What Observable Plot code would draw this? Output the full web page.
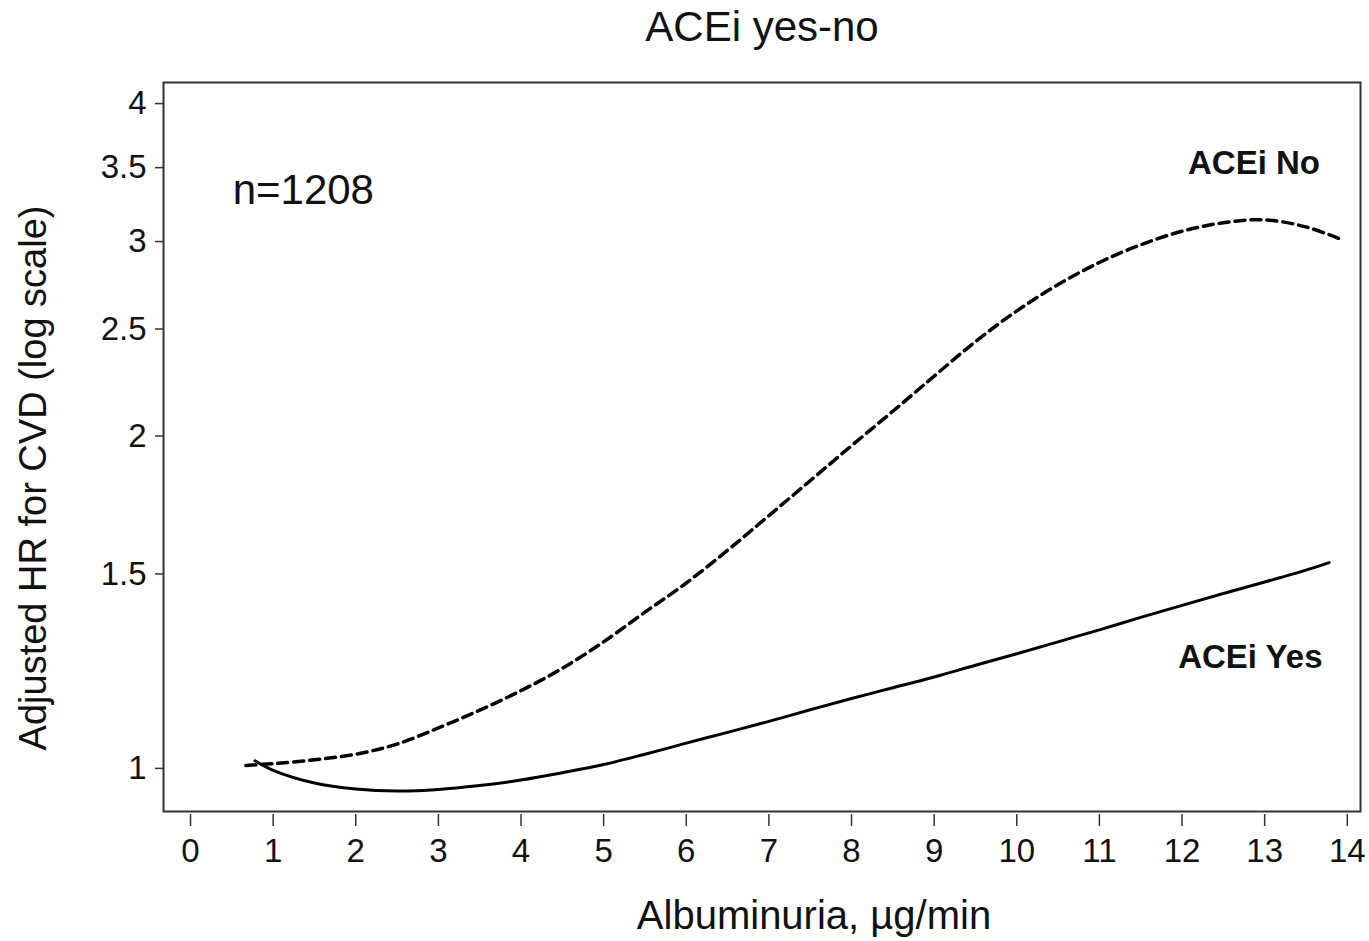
<!DOCTYPE html>
<html>
<head>
<meta charset="utf-8">
<script src="https://cdn.jsdelivr.net/npm/d3@7"></script>
<script src="https://cdn.jsdelivr.net/npm/@observablehq/plot@0.6"></script>
<style>
  html, body { margin: 0; padding: 0; background: #fff; }
</style>
</head>
<body>
<div id="chart"></div>
<script>
// ---- Data ----
const titleText = "ACEi yes-no";
const xLabelText = "Albuminuria, µg/min";
const yLabelText = "Adjusted HR for CVD (log scale)";
const xTicks = [0,1,2,3,4,5,6,7,8,9,10,11,12,13,14];
const yTicks = [1, 1.5, 2, 2.5, 3, 3.5, 4];

// ACEi No (dashed)
const noX  = [0.67, 1.0, 1.5, 2.0, 2.5, 3.0, 3.5, 4.0, 4.5, 5.0, 5.5, 6.0, 6.5, 7.0, 7.5, 8.0, 8.5, 9.0, 9.5, 10.0, 10.5, 11.0, 11.5, 12.0, 12.5, 13.0, 13.5, 13.93];
const noHR = [1.006, 1.010, 1.018, 1.030, 1.052, 1.088, 1.129, 1.176, 1.232, 1.302, 1.385, 1.472, 1.576, 1.694, 1.822, 1.960, 2.106, 2.266, 2.435, 2.596, 2.743, 2.872, 2.980, 3.065, 3.120, 3.139, 3.093, 3.013];

// ACEi Yes (solid)
const yesX  = [0.78, 1.0, 1.5, 2.0, 2.5, 3.0, 3.5, 4.0, 4.5, 5.0, 5.5, 6.0, 6.5, 7.0, 7.5, 8.0, 8.5, 9.0, 9.5, 10.0, 10.5, 11.0, 11.5, 12.0, 12.5, 13.0, 13.5, 13.78];
const yesHR = [1.016, 0.996, 0.970, 0.958, 0.954, 0.957, 0.965, 0.976, 0.991, 1.008, 1.03, 1.054, 1.078, 1.103, 1.13, 1.157, 1.183, 1.21, 1.24, 1.27, 1.302, 1.335, 1.37, 1.405, 1.44, 1.475, 1.512, 1.536];

// Annotations
const nNote = [{x: 0.51, y: 3.34, label: "n=1208"}];
const seriesNotes = [
  {x: 13.67, y: 3.53, label: "ACEi No"},
  {x: 13.70, y: 1.26, label: "ACEi Yes"}
];

const noData = noX.map((x, i) => ({x, hr: noHR[i]}));
const yesData = yesX.map((x, i) => ({x, hr: yesHR[i]}));

const chart = Plot.plot({
  width: 1369,
  height: 941,
  marginLeft: 163,
  marginRight: 9,
  marginTop: 82,
  marginBottom: 130,
  style: {fontFamily: "'Liberation Sans', Arial, sans-serif", background: "#fff", color: "#111"},
  x: {type: "linear", domain: [-0.327, 14.16]},
  y: {type: "log", domain: [0.914, 4.18]},
  marks: [
    Plot.frame({stroke: "#333", strokeWidth: 2}),
    Plot.axisY(yTicks, {anchor: "left", tickSize: 8, tickPadding: 9, fontSize: 33, label: null, tickFormat: d => String(d), stroke: "#333", strokeWidth: 1.5}),
    Plot.axisX(xTicks, {anchor: "bottom", tickSize: 12, dy: 3, tickPadding: 12, fontSize: 33, label: null, tickFormat: d => String(d), stroke: "#333", strokeWidth: 1.5}),
    Plot.line(noData, {x: "x", y: "hr", stroke: "#000", strokeWidth: 3.5, strokeDasharray: "10,6", curve: "catmull-rom"}),
    Plot.line(yesData, {x: "x", y: "hr", stroke: "#000", strokeWidth: 3, curve: "catmull-rom"}),
    Plot.text(nNote, {x: "x", y: "y", text: "label", fontSize: 42, textAnchor: "start", fill: "#111"}),
    Plot.text(seriesNotes, {x: "x", y: "y", text: "label", fontSize: 33, fontWeight: "bold", textAnchor: "end", fill: "#111"}),
    Plot.text([titleText], {text: d => d, frameAnchor: "top", dy: -55, lineAnchor: "middle", textAnchor: "middle", fontSize: 42, fill: "#111"}),
    Plot.text([xLabelText], {text: d => d, frameAnchor: "bottom", dx: 52, dy: 105, lineAnchor: "middle", textAnchor: "middle", fontSize: 40, fill: "#111"}),
    Plot.text([yLabelText], {text: d => d, frameAnchor: "left", rotate: -90, dx: -130, dy: 31, lineAnchor: "middle", textAnchor: "middle", fontSize: 38, fill: "#111"})
  ]
});
document.getElementById("chart").appendChild(chart);
</script>
</body>
</html>
